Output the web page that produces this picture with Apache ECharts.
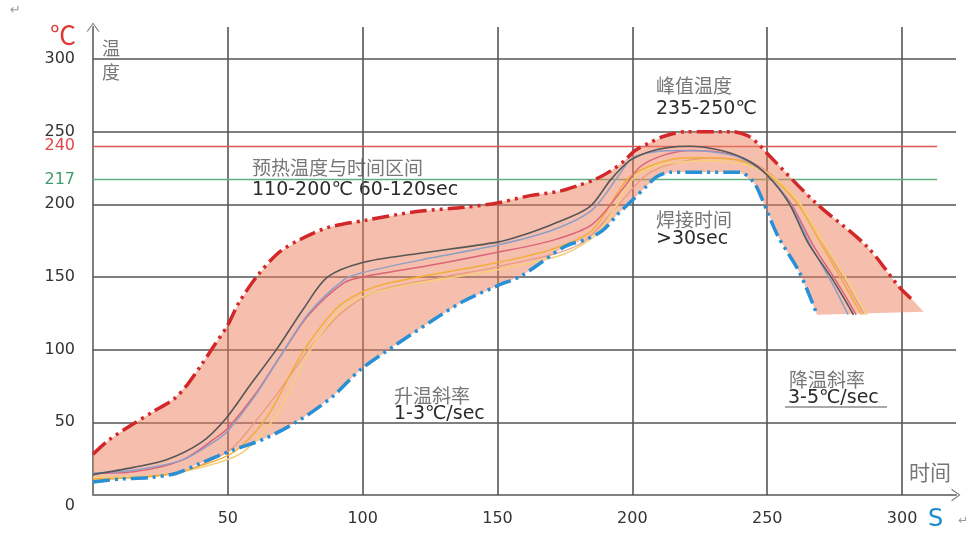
<!DOCTYPE html>
<html>
<head>
<meta charset="utf-8">
<title>回流焊温度曲线</title>
<script src="https://cdn.jsdelivr.net/npm/echarts@6/dist/echarts.min.js"></script>
<style>
  html, body { margin: 0; padding: 0; background: #fff; }
  #chart { width: 973px; height: 533px; }
</style>
</head>
<body>
<div id="chart"></div>
<script>
// axis ticks / labels
const xTicks = [50, 100, 150, 200, 250, 300]
const yTicks = [50, 100, 150, 200, 250, 300]
const yLabelValues = [0, 50, 100, 150, 200, 217, 240, 250, 300]
const refLevels = [240, 217]

// upper limit (red dash-dot-dot)
const upperX = [0, 6, 15, 22, 30, 35, 40, 45, 50, 54, 61, 69, 77, 87, 101, 120, 138, 150, 162, 173, 180, 186, 192, 197, 201, 206, 212, 220, 237, 243, 247, 250, 268, 287, 299, 304]
const upperY = [28, 38, 49, 57, 66, 76, 89, 103, 117, 132, 151, 167, 176, 184, 189, 195, 198, 201, 206, 209, 213, 217, 223, 230, 237, 242, 247, 250, 250, 247, 241, 235, 201, 171, 143, 134]

// lower limit (blue dash-dot-dot)
const lowerX = [0, 10, 21, 31, 40, 52, 64, 77, 89, 99, 112, 125, 137, 150, 159, 175, 183, 189, 195, 199, 205, 209, 214, 221, 240, 245, 248, 254, 262, 268.5]
const lowerY = [9, 11, 12, 15, 22, 31, 39, 52, 68, 86, 103, 119, 133, 144, 151, 171, 176, 182, 194, 201, 212, 219, 222, 222, 222, 215, 204, 178, 153, 124]

// corner of the process window at the bottom right
const windowEnd = [308, 126]

// measured profiles
const grayX = [0, 15, 27, 40, 49, 58, 68, 78, 87, 100, 120, 150, 158, 170, 184, 192, 199, 206, 213, 221, 233, 243, 250, 258, 265, 274, 282]
const grayY = [14, 19, 24, 36, 52, 75, 100, 128, 150, 160, 166, 174, 178, 186, 198, 217, 230, 236, 239, 240, 237, 230, 220, 201, 174, 149, 124]
const blueX = [0, 15, 33, 46, 50, 60, 70, 80, 93, 100, 125, 150, 170, 185, 195, 200, 208, 218, 230, 240, 250, 258, 266, 274, 280]
const blueY = [15, 17, 24, 38, 44, 68, 97, 125, 148, 153, 163, 172, 182, 196, 220, 232, 236, 237, 236, 232, 220, 202, 172, 146, 124]
const pinkX = [0, 15, 33, 46, 50, 60, 70, 80, 93, 100, 125, 150, 170, 185, 197, 203, 212, 222, 235, 245, 252, 259, 267, 276, 283]
const pinkY = [15, 16, 24, 40, 46, 69, 97, 124, 146, 150, 158, 167, 175, 186, 212, 226, 234, 237, 235, 228, 216, 200, 172, 146, 124]
const orangeX = [0, 27, 46, 54, 65, 77, 90, 99, 110, 150, 170, 185, 198, 206, 215, 225, 240, 250, 261, 269, 277, 285]
const orangeY = [11, 14, 24, 32, 55, 96, 128, 139, 146, 160, 169, 182, 217, 226, 231, 232, 230, 221, 201, 176, 150, 124]
const paleX = [0, 27, 46, 56, 68, 80, 92, 102, 115, 150, 175, 188, 200, 208, 218, 228, 242, 252, 262, 270, 279, 287]
const paleY = [12, 14, 22, 30, 55, 98, 128, 138, 144, 155, 166, 182, 217, 226, 229, 230, 227, 219, 201, 176, 150, 124]
const salmonX = [0, 30, 50, 60, 70, 80, 92, 105, 130, 150, 180, 195, 205, 215, 230, 245, 255, 263, 271, 279, 286]
const salmonY = [12, 15, 30, 50, 74, 100, 125, 140, 150, 157, 172, 200, 220, 228, 232, 228, 215, 198, 172, 147, 124]

function pairs(xs, ys) {
  return xs.map((x, i) => [x, ys[i]])
}

const upper = pairs(upperX, upperY)
const lower = pairs(lowerX, lowerY)
const fillPoly = upper.concat([windowEnd]).concat(lower.slice().reverse())

const cjk = '"Noto Sans CJK SC", sans-serif'
const num = '"DejaVu Sans", sans-serif'
const dashDot = [17, 5, 3, 5, 3, 5]

const chart = echarts.init(document.getElementById('chart'))

function profile(data, color, width) {
  return {
    type: 'line',
    data: data,
    smooth: 0.3,
    showSymbol: false,
    silent: true,
    z: 3,
    lineStyle: { color: color, width: width }
  }
}

chart.setOption({
  animation: false,
  grid: { left: 93, right: 17, top: 27, bottom: 38 },
  xAxis: {
    type: 'value',
    min: 0,
    max: 320,
    splitLine: { show: false },
    axisTick: { show: false },
    axisLine: {
      lineStyle: { color: '#808080', width: 2 },
      symbol: ['none', 'path://M0,9 L6.5,0 L13,9 L11.6,9 L6.5,1.8 L1.4,9 Z'],
      symbolSize: [13, 9]
    },
    axisLabel: {
      customValues: xTicks,
      margin: 16,
      color: '#333',
      fontSize: 16,
      fontFamily: num
    }
  },
  yAxis: {
    type: 'value',
    min: 0,
    max: 322,
    splitLine: { show: false },
    axisTick: { show: false },
    axisLine: {
      lineStyle: { color: '#808080', width: 2 },
      symbol: ['none', 'path://M0,9 L6.5,0 L13,9 L11.6,9 L6.5,1.8 L1.4,9 Z'],
      symbolSize: [13, 9]
    },
    axisLabel: {
      customValues: yLabelValues,
      margin: 18,
      formatter: function (v) {
        if (v === 240) return '{r|240}'
        if (v === 217) return '{g|217}'
        if (v === 0) return '{z|0}'
        return '{n|' + v + '}'
      },
      rich: {
        n: { color: '#333', fontSize: 16, fontFamily: num },
        r: { color: '#e0474a', fontSize: 16, fontFamily: num },
        g: { color: '#3f9c6c', fontSize: 16, fontFamily: num },
        z: { color: '#333', fontSize: 16, fontFamily: num, padding: [22, 0, 0, 0] }
      }
    }
  },
  series: [
    {
      // grid lines and reference levels
      type: 'line',
      data: [],
      silent: true,
      markLine: {
        z: 1,
        silent: true,
        symbol: 'none',
        label: { show: false },
        lineStyle: { color: '#555', width: 1.6, type: 'solid' },
        data: xTicks.map(v => ({ xAxis: v }))
          .concat(yTicks.map(v => ({ yAxis: v })))
          .concat(refLevels.map((v, i) => [
            { coord: [0, v], lineStyle: { color: i === 0 ? '#e05656' : '#5fb07e', width: 1.3 } },
            { coord: [313, v] }
          ]))
      }
    },
    {
      type: 'custom',
      silent: true,
      z: 2,
      data: [[0, 0]],
      renderItem: function (params, api) {
        return {
          type: 'polygon',
          shape: { points: fillPoly.map(p => api.coord(p)) },
          style: { fill: 'rgba(237,125,89,0.5)' }
        }
      }
    },
    profile(pairs(salmonX, salmonY), '#eb9c7e', 1.3),
    profile(pairs(paleX, paleY), '#f6cf7c', 1.6),
    profile(pairs(orangeX, orangeY), '#f2ae36', 1.5),
    profile(pairs(pinkX, pinkY), '#dc6479', 1.5),
    profile(pairs(blueX, blueY), '#8d9fc6', 1.5),
    profile(pairs(grayX, grayY), '#575757', 1.6),
    {
      type: 'line',
      data: upper,
      smooth: 0.3,
      showSymbol: false,
      silent: true,
      z: 4,
      lineStyle: { color: '#d3282a', width: 3.5, type: dashDot }
    },
    {
      type: 'line',
      data: lower,
      smooth: 0.3,
      showSymbol: false,
      silent: true,
      z: 4,
      lineStyle: { color: '#2a90d6', width: 3.5, type: dashDot }
    }
  ],
  graphic: [
    { type: 'text', left: 10, top: 4, style: { text: '↵', fill: '#999', fontSize: 13, fontFamily: num } },
    { type: 'text', left: 50, top: 22, style: { text: '℃', fill: '#e03838', fontSize: 26, fontFamily: cjk } },
    { type: 'text', left: 102, top: 36, style: { text: '温\n度', fill: '#777', fontSize: 18, lineHeight: 24, fontFamily: cjk } },
    { type: 'text', left: 252, top: 158, style: { text: '预热温度与时间区间', fill: '#777', fontSize: 19, fontFamily: cjk } },
    { type: 'text', left: 252, top: 181, style: { text: '110-200℃ 60-120sec', fill: '#2b2b2b', fontSize: 19, fontFamily: num } },
    { type: 'text', left: 656, top: 76, style: { text: '峰值温度', fill: '#777', fontSize: 19, fontFamily: cjk } },
    { type: 'text', left: 656, top: 100, style: { text: '235-250℃', fill: '#2b2b2b', fontSize: 19, fontFamily: num } },
    { type: 'text', left: 656, top: 210, style: { text: '焊接时间', fill: '#777', fontSize: 19, fontFamily: cjk } },
    { type: 'text', left: 656, top: 230, style: { text: '>30sec', fill: '#2b2b2b', fontSize: 19, fontFamily: num } },
    { type: 'text', left: 394, top: 386, style: { text: '升温斜率', fill: '#777', fontSize: 19, fontFamily: cjk } },
    { type: 'text', left: 394, top: 405, style: { text: '1-3℃/sec', fill: '#2b2b2b', fontSize: 19, fontFamily: num } },
    { type: 'text', left: 789, top: 370, style: { text: '降温斜率', fill: '#777', fontSize: 19, fontFamily: cjk } },
    { type: 'text', left: 788, top: 389, style: { text: '3-5℃/sec', fill: '#2b2b2b', fontSize: 19, fontFamily: num } },
    { type: 'line', shape: { x1: 785, y1: 407, x2: 887, y2: 407 }, style: { stroke: '#555', lineWidth: 1.2 } },
    { type: 'text', left: 909, top: 462, style: { text: '时间', fill: '#777', fontSize: 21, fontFamily: cjk } },
    { type: 'text', left: 928, top: 508, style: { text: 'S', fill: '#1f8ad2', fontSize: 24, fontFamily: num } },
    { type: 'text', left: 958, top: 515, style: { text: '↵', fill: '#999', fontSize: 12, fontFamily: num } }
  ]
})
</script>
</body>
</html>
